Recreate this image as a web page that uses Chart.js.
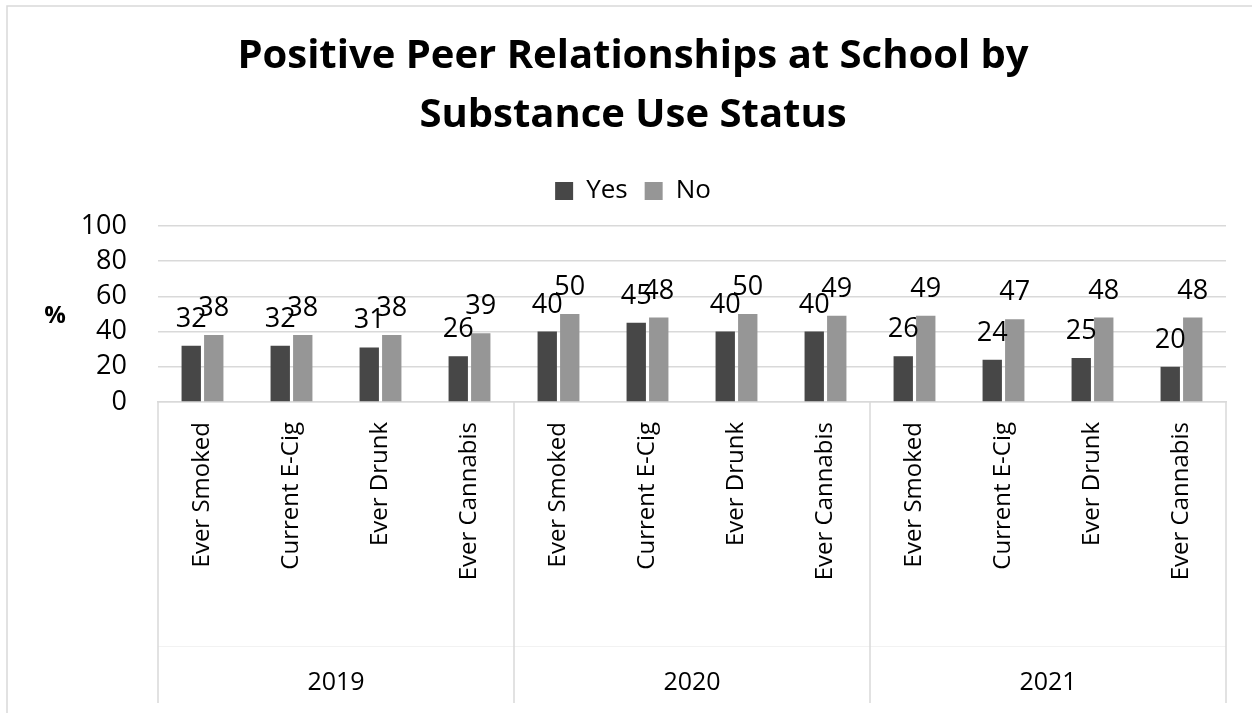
<!DOCTYPE html>
<html>
<head>
<meta charset="utf-8">
<script src="https://cdn.jsdelivr.net/npm/chart.js@4.4.1/dist/chart.umd.min.js"></script>
<style>
  html, body { margin: 0; padding: 0; background: #fff; overflow: hidden; }
  #wrap { position: relative; width: 1252px; height: 713px; }
</style>
</head>
<body>
<div id="wrap"><canvas id="chart" width="1252" height="713"></canvas></div>
<script>
// Survey measures, three waves of four substance-use groups each
const categories = [
  'Ever Smoked', 'Current E-Cig', 'Ever Drunk', 'Ever Cannabis',
  'Ever Smoked', 'Current E-Cig', 'Ever Drunk', 'Ever Cannabis',
  'Ever Smoked', 'Current E-Cig', 'Ever Drunk', 'Ever Cannabis'
];
const years = ['2019', '2020', '2021'];
const groupsPerYear = 4;
const yesValues = [32, 32, 31, 26, 40, 45, 40, 40, 26, 24, 25, 20];
const noValues  = [38, 38, 38, 39, 50, 48, 50, 49, 49, 47, 48, 48];
const yTicks = [0, 20, 40, 60, 80, 100];

const FONT = "'Open Sans', 'Liberation Sans', sans-serif";
const LINE = '#d9d9d9';

// White page with a thin frame around the chart
const chartFrame = {
  id: 'chartFrame',
  beforeDraw(chart) {
    const ctx = chart.ctx;
    ctx.save();
    ctx.fillStyle = '#fff';
    ctx.fillRect(0, 0, chart.width, chart.height);
    ctx.strokeStyle = LINE;
    ctx.lineWidth = 1.5;
    ctx.strokeRect(7, 6, chart.width + 40, chart.height + 40);
    ctx.restore();
  }
};

// Extra space between the legend row and the plot area
const legendGap = {
  id: 'legendGap',
  beforeLayout(chart, args, opts) {
    const lg = chart.legend;
    if (lg && !lg.__gapWrapped) {
      const fit = lg.fit.bind(lg);
      lg.fit = function () { fit(); this.height += opts.extra || 0; };
      lg.__gapWrapped = true;
    }
  }
};

// Vertical dividers between the year groups, running through both label tiers
const groupDividers = {
  id: 'groupDividers',
  afterDraw(chart) {
    const xs = chart.scales.x;
    const ys = chart.scales.year;
    const ctx = chart.ctx;
    ctx.save();
    // faint rule between the category tier and the year tier
    ctx.strokeStyle = '#f2f2f2';
    ctx.lineWidth = 1;
    ctx.beginPath();
    ctx.moveTo(xs.left, Math.round(xs.bottom) + 0.5);
    ctx.lineTo(xs.right, Math.round(xs.bottom) + 0.5);
    ctx.stroke();
    ctx.strokeStyle = LINE;
    ctx.lineWidth = 1.5;
    for (let k = 0; k <= categories.length; k += groupsPerYear) {
      const px = xs.getPixelForValue(k - 0.5);
      ctx.beginPath();
      ctx.moveTo(px, chart.chartArea.bottom);
      ctx.lineTo(px, ys.bottom);
      ctx.stroke();
    }
    ctx.restore();
  }
};

// Value labels above each bar
const valueLabels = {
  id: 'valueLabels',
  afterDatasetsDraw(chart) {
    const ctx = chart.ctx;
    ctx.save();
    ctx.font = `27px ${FONT}`;
    ctx.fillStyle = '#000';
    ctx.textAlign = 'center';
    ctx.textBaseline = 'alphabetic';
    chart.data.datasets.forEach((ds, di) => {
      const meta = chart.getDatasetMeta(di);
      meta.data.forEach((bar, i) => {
        ctx.fillText(String(ds.data[i]), bar.x, bar.y - 19);
      });
    });
    ctx.restore();
  }
};

// Unrotated unit label beside the value axis
const axisUnit = {
  id: 'axisUnit',
  afterDraw(chart) {
    const ca = chart.chartArea;
    const ctx = chart.ctx;
    ctx.save();
    ctx.font = `bold 24px ${FONT}`;
    ctx.fillStyle = '#000';
    ctx.textAlign = 'center';
    ctx.textBaseline = 'middle';
    ctx.fillText('%', 55, (ca.top + ca.bottom) / 2 + 2);
    ctx.restore();
  }
};

new Chart(document.getElementById('chart'), {
  type: 'bar',
  data: {
    labels: categories,
    datasets: [
      { label: 'Yes', data: yesValues, backgroundColor: '#474747', borderWidth: 0,
        categoryPercentage: 0.506, barPercentage: 0.86 },
      { label: 'No', data: noValues, backgroundColor: '#969696', borderWidth: 0,
        categoryPercentage: 0.506, barPercentage: 0.86 }
    ]
  },
  options: {
    responsive: false,
    animation: false,
    devicePixelRatio: 1,
    layout: { padding: { left: 40, right: 26, top: 0, bottom: 10 } },
    plugins: {
      title: {
        display: true,
        text: ['Positive Peer Relationships at School by', 'Substance Use Status'],
        color: '#000',
        font: { family: FONT, size: 40, weight: 'bold', lineHeight: 1.475 },
        padding: { top: 27, bottom: 16 }
      },
      legend: {
        display: true,
        position: 'top',
        labels: {
          color: '#000',
          font: { family: FONT, size: 26 },
          boxWidth: 18,
          boxHeight: 18,
          padding: 17
        }
      },
      legendGap: { extra: 12 },
      tooltip: { enabled: false }
    },
    scales: {
      x: {
        type: 'category',
        position: 'bottom',
        weight: 0,
        grid: { display: false, drawTicks: false },
        border: { display: true, color: LINE, width: 1.5 },
        ticks: {
          color: '#000',
          font: { family: FONT, size: 24 },
          minRotation: 90,
          maxRotation: 90,
          autoSkip: false,
          padding: 20
        },
        afterFit(s) { s.height = 244; }
      },
      year: {
        type: 'category',
        position: 'bottom',
        weight: 1,
        labels: years,
        offset: true,
        grid: { display: false, drawTicks: false },
        border: { display: false },
        ticks: {
          color: '#000',
          font: { family: FONT, size: 25 },
          maxRotation: 0,
          autoSkip: false,
          padding: 22
        },
        afterFit(s) { s.height = 57; }
      },
      y: {
        min: 0,
        max: 100,
        grid: { color: LINE, lineWidth: 1.5, drawTicks: false },
        border: { display: false },
        ticks: {
          color: '#000',
          font: { family: FONT, size: 27 },
          padding: 31,
          autoSkip: false
        },
        afterBuildTicks(s) { s.ticks = yTicks.map(v => ({ value: v })); },
        afterFit(s) { s.width = 118; }
      }
    }
  },
  plugins: [chartFrame, legendGap, groupDividers, valueLabels, axisUnit]
});
</script>
</body>
</html>
